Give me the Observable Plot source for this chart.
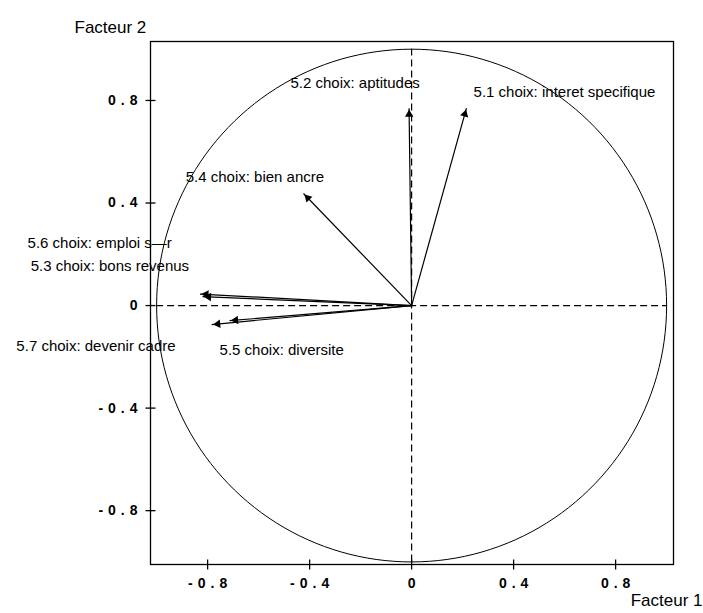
<!DOCTYPE html>
<html>
<head>
<meta charset="utf-8">
<script src="https://cdn.jsdelivr.net/npm/d3@7"></script>
<script src="https://cdn.jsdelivr.net/npm/@observablehq/plot@0.6"></script>
<style>
  body { margin: 0; background: white; }
  #chart g[font-weight="bold"] text { letter-spacing: 5px; }
</style>
</head>
<body>
<div id="chart"></div>
<script>
// Variables (correlation circle, factors 1 and 2)
const labels = [
  "5.1 choix: interet specifique",
  "5.2 choix: aptitudes",
  "5.3 choix: bons revenus",
  "5.4 choix: bien ancre",
  "5.5 choix: diversite",
  "5.6 choix: emploi s\u2014r",
  "5.7 choix: devenir cadre"
];
const factor1 = [0.215, -0.01, -0.82, -0.424, -0.714, -0.83, -0.784];
const factor2 = [0.77, 0.77, 0.035, 0.437, -0.059, 0.045, -0.074];
// label anchor points (data units)
const labelX = [0.243, -0.475, -1.494, -0.886, -0.753, -1.506, -1.55];
const labelY = [0.831, 0.866, 0.152, 0.5, -0.176, 0.242, -0.16];
// tick values
const ticksX = [-0.8, -0.4, 0, 0.4, 0.8];
const ticksY = [-0.8, -0.4, 0, 0.4, 0.8];
const axisTitleX = "Facteur 1";
const axisTitleY = "Facteur 2";

const xDomain = [-1.024, 1.027];
const yDomain = [-1.01, 1.03];

// tick glyphs crossing the frame (5px each side)
const vTick = {draw(ctx) { ctx.moveTo(0, -5); ctx.lineTo(0, 5); }};
const hTick = {draw(ctx) { ctx.moveTo(-5, 0); ctx.lineTo(5, 0); }};

// unit correlation circle (geometric reference)
const unitCircle = d3.range(0, 361, 2).map(a => ({x: Math.cos(a * Math.PI / 180), y: Math.sin(a * Math.PI / 180)}));

const back = 0.024; // arrowhead retraction so the triangle tip lands on the point
const rows = labels.map((label, i) => {
  const x = factor1[i], y = factor2[i];
  const len = Math.hypot(x, y);
  return {
    label, f1: x, f2: y,
    hx: x - x / len * back, hy: y - y / len * back,
    angle: Math.atan2(x, y) * 180 / Math.PI,
    lx: labelX[i], ly: labelY[i]
  };
});

const fmt = d => d === 0 ? "0" : d.toFixed(1);
const font = "'Liberation Sans', Arial, Helvetica, sans-serif";

const chart = Plot.plot({
  width: 703,
  height: 613,
  marginLeft: 150,
  marginRight: 30,
  marginTop: 41,
  marginBottom: 49,
  x: {domain: xDomain, axis: null},
  y: {domain: yDomain, axis: null},
  style: {fontFamily: font, background: "white"},
  marks: [
    Plot.frame({strokeWidth: 1.3}),
    Plot.line(unitCircle, {x: "x", y: "y", stroke: "black", strokeWidth: 1}),
    Plot.ruleX([0], {y1: -1, y2: 1, stroke: "black", strokeWidth: 1.2, strokeDasharray: "7,4"}),
    Plot.ruleY([0], {x1: -1, x2: 1, stroke: "black", strokeWidth: 1.2, strokeDasharray: "7,4"}),
    Plot.link(rows, {x1: 0, y1: 0, x2: "f1", y2: "f2", stroke: "black", strokeWidth: 1.2}),
    Plot.dot(rows, {x: "hx", y: "hy", symbol: "triangle2", r: 4, fill: "black", stroke: "none", rotate: "angle"}),
    Plot.text(rows, {x: "lx", y: "ly", text: "label", textAnchor: "start", fontSize: 15, fill: "black"}),
    // tick marks crossing the frame
    Plot.dot(ticksX, {x: d => d, y: yDomain[0], symbol: vTick, r: 5, stroke: "black", strokeWidth: 1.3}),
    Plot.dot(ticksY, {y: d => d, x: xDomain[0], symbol: hTick, r: 5, stroke: "black", strokeWidth: 1.3}),
    // tick labels
    Plot.text(ticksX, {x: d => d, y: yDomain[0], text: fmt, dy: 19, dx: 2.5, fontSize: 14, fontWeight: "bold", fill: "black"}),
    Plot.text(ticksY, {y: d => d, x: xDomain[0], text: fmt, dx: -8, textAnchor: "end", fontSize: 14, fontWeight: "bold", fill: "black"}),
    // axis titles
    Plot.text([axisTitleY], {text: d => d, frameAnchor: "top-left", dx: -76, dy: -21, textAnchor: "start", fontSize: 17, fill: "black"}),
    Plot.text([axisTitleX], {text: d => d, frameAnchor: "bottom-right", dx: 29, dy: 41, textAnchor: "end", fontSize: 17, fill: "black"})
  ]
});
document.getElementById("chart").appendChild(chart);
</script>
</body>
</html>
